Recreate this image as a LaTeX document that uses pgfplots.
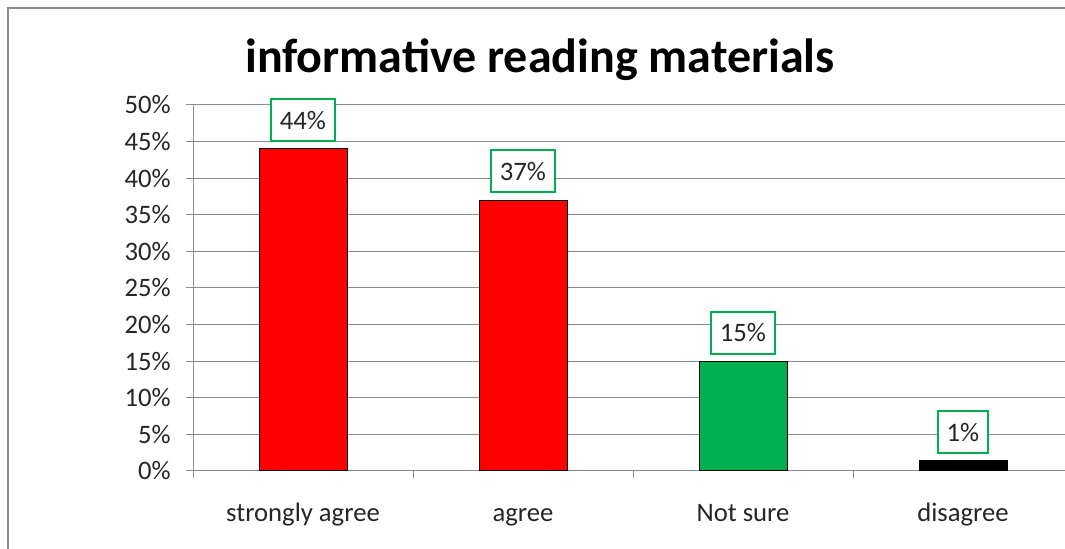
\documentclass[border=0pt]{standalone}
\usepackage{fontspec}
\setmainfont{Carlito}
\usepackage{pgfplots}
\pgfplotsset{compat=1.18}
\definecolor{xlgreen}{HTML}{00B050}
\definecolor{xlred}{HTML}{FF0000}
\definecolor{gridgray}{HTML}{8C8C8C}
\begin{document}
\begin{tikzpicture}[x=0.75pt,y=0.75pt]
\path[use as bounding box] (0,0) rectangle (1065,549);
\clip (0,0) rectangle (1065,549);
% outer chart frame (cut off at right and bottom)
\draw[gridgray, line width=1.5pt] (8,-10) -- (8,541) -- (1080,541);
\node[font=\bfseries\fontsize{36}{40}\selectfont] at (540,489) {informative reading materials};
\begin{axis}[
  at={(144.75pt,58.5pt)}, anchor=south west,
  scale only axis, width=660pt, height=274.5pt,
  xmin=-0.5, xmax=3.5, ymin=0, ymax=50,
  axis x line=bottom, axis y line=left,
  axis line style={gridgray, line width=0.75pt, -},
  ymajorgrids, grid style={gridgray, line width=0.75pt},
  ytick={0,5,...,50},
  yticklabel={\pgfmathprintnumber{\tick}\%},
  xtick={0,1,2,3},
  xticklabels={strongly agree, agree, Not sure, disagree},
  minor xtick={-0.5,0.5,1.5,2.5},
  tick align=outside,
  major tick length=5.25pt, minor tick length=5.25pt,
  tick style={gridgray, line width=0.75pt},
  major x tick style={draw=none},
  tick label style={font=\fontsize{20}{22}\selectfont, text=black!85},
  yticklabel style={xshift=-8pt},
  xticklabel style={anchor=base, yshift=-33pt},
  /pgf/number format/assume math mode=true,
  ybar, bar width=66pt, bar shift=0pt,
  point meta=explicit,
  nodes near coords={\pgfmathprintnumber{\pgfplotspointmeta}\%},
  every node near coord/.append style={draw=xlgreen, line width=1.5pt,
    fill=white, inner xsep=6.5pt, minimum height=31.5pt, anchor=south,
    yshift=5pt, text=black!85, font=\fontsize{20}{22}\selectfont},
  clip=false,
]
\addplot[draw=black, line width=0.75pt, fill=xlred] coordinates {(0,44) [44] (1,37) [37]};
\addplot[draw=black, line width=0.75pt, fill=xlgreen] coordinates {(2,15) [15]};
\addplot[draw=black, line width=0.75pt, fill=black] coordinates {(3,1.4) [1]};
\end{axis}
\end{tikzpicture}
\end{document}
